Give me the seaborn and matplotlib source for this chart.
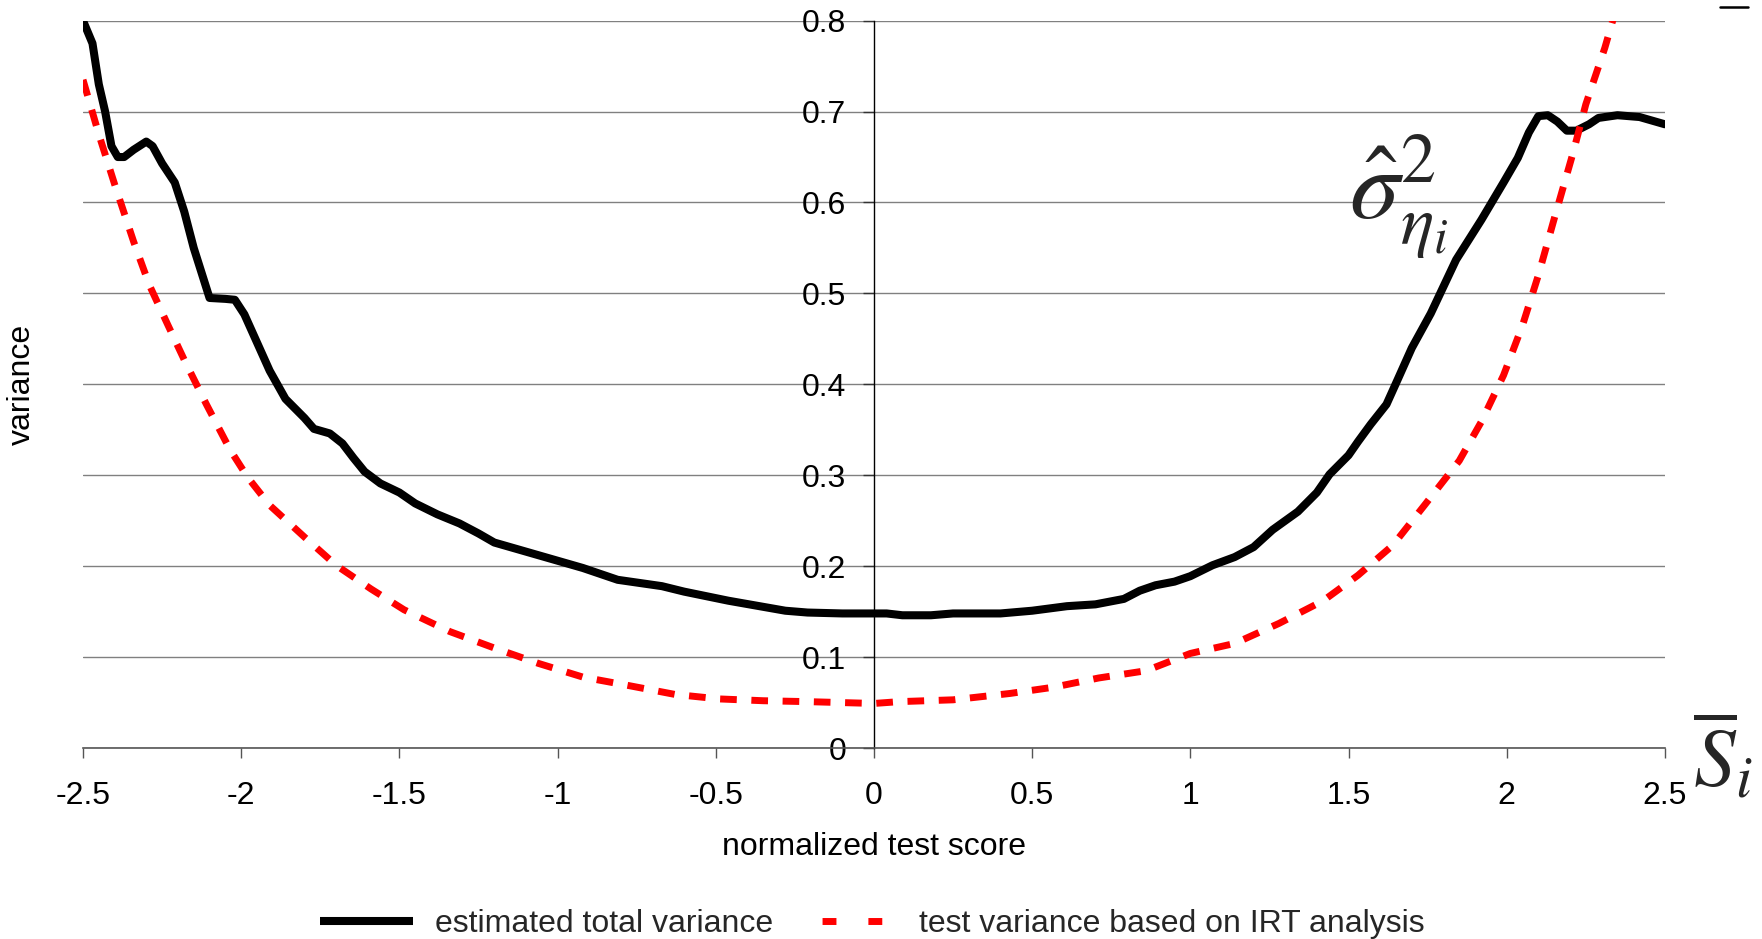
import matplotlib
matplotlib.use("Agg")
import matplotlib.pyplot as plt
from matplotlib.lines import Line2D
import pandas as pd
import seaborn as sns

# estimated total variance (black solid curve)
total_x = [-2.50, -2.47, -2.45, -2.43, -2.41, -2.39, -2.37, -2.34, -2.30, -2.28,
           -2.25, -2.21, -2.18, -2.15, -2.12, -2.10, -2.05, -2.02, -1.99, -1.95,
           -1.91, -1.86, -1.80, -1.77, -1.72, -1.68, -1.645, -1.61, -1.56, -1.50,
           -1.45, -1.38, -1.31, -1.25, -1.20, -1.09, -0.99, -0.92, -0.81, -0.67,
           -0.60, -0.46, -0.28, -0.21, -0.10, 0.04, 0.09, 0.18, 0.25, 0.40,
           0.50, 0.61, 0.70, 0.79, 0.84, 0.89, 0.95, 1.00, 1.07, 1.14,
           1.20, 1.26, 1.34, 1.40, 1.44, 1.50, 1.53, 1.57, 1.62, 1.655,
           1.70, 1.76, 1.84, 1.92, 1.99, 2.035, 2.07, 2.10, 2.13, 2.16,
           2.19, 2.22, 2.26, 2.29, 2.35, 2.42, 2.50]
total_y = [0.800, 0.775, 0.730, 0.700, 0.662, 0.650, 0.650, 0.658, 0.667, 0.662,
           0.643, 0.622, 0.590, 0.550, 0.517, 0.495, 0.494, 0.493, 0.477, 0.446,
           0.415, 0.384, 0.363, 0.351, 0.346, 0.335, 0.319, 0.304, 0.291, 0.281,
           0.269, 0.257, 0.247, 0.236, 0.226, 0.215, 0.205, 0.198, 0.185, 0.178,
           0.172, 0.162, 0.151, 0.149, 0.148, 0.148, 0.146, 0.146, 0.148, 0.148,
           0.151, 0.156, 0.158, 0.164, 0.173, 0.179, 0.183, 0.189, 0.201, 0.210,
           0.221, 0.240, 0.260, 0.281, 0.301, 0.322, 0.337, 0.356, 0.378, 0.405,
           0.440, 0.478, 0.537, 0.581, 0.622, 0.649, 0.677, 0.695, 0.696, 0.689,
           0.679, 0.679, 0.686, 0.693, 0.696, 0.694, 0.686]

# test variance from the IRT analysis (red dashed curve)
irt_x = [-2.50, -2.45, -2.40, -2.34, -2.29, -2.23, -2.18, -2.11, -2.035, -1.98,
         -1.91, -1.80, -1.70, -1.59, -1.485, -1.34, -1.20, -1.06, -0.92, -0.78,
         -0.63, -0.49, -0.35, -0.21, 0.0, 0.08, 0.25, 0.43, 0.57, 0.71,
         0.86, 1.00, 1.14, 1.28, 1.42, 1.53, 1.64, 1.74, 1.85, 1.92,
         1.99, 2.05, 2.10, 2.15, 2.21, 2.25, 2.31, 2.36]
irt_y = [0.735, 0.675, 0.620, 0.557, 0.509, 0.464, 0.427, 0.378, 0.328, 0.298,
         0.267, 0.232, 0.201, 0.175, 0.152, 0.128, 0.110, 0.093, 0.078, 0.069,
         0.059, 0.054, 0.052, 0.051, 0.049, 0.051, 0.053, 0.060, 0.067, 0.077,
         0.085, 0.104, 0.115, 0.137, 0.162, 0.190, 0.223, 0.267, 0.316, 0.359,
         0.410, 0.465, 0.520, 0.582, 0.655, 0.708, 0.770, 0.830]

x_ticks = [-2.5, -2, -1.5, -1, -0.5, 0, 0.5, 1, 1.5, 2, 2.5]
x_tick_labels = ['-2.5', '-2', '-1.5', '-1', '-0.5', '0', '0.5', '1', '1.5', '2', '2.5']
y_ticks = [0, 0.1, 0.2, 0.3, 0.4, 0.5, 0.6, 0.7, 0.8]
y_tick_labels = ['0', '0.1', '0.2', '0.3', '0.4', '0.5', '0.6', '0.7', '0.8']
series_names = ['estimated total variance', 'test variance based on IRT analysis']

sns.set_theme(style='white')
plt.rcParams['font.family'] = ['Liberation Sans', 'DejaVu Sans']
plt.rcParams['mathtext.fontset'] = 'stix'

fig = plt.figure(figsize=(17.62, 9.39), dpi=100)
ax = fig.add_axes([0.0471, 0.2034, 0.8978, 0.7746])

total = pd.DataFrame({'score': total_x, 'variance': total_y})
irt = pd.DataFrame({'score': irt_x, 'variance': irt_y})

sns.lineplot(data=total, x='score', y='variance', ax=ax, estimator=None,
             color='black', lw=5.8, zorder=3)
sns.lineplot(data=irt, x='score', y='variance', ax=ax, estimator=None,
             color='red', lw=5, ls=(0, (2.4, 2.1)), zorder=4)

ax.set_xlim(-2.5, 2.5)
ax.set_ylim(0, 0.8)
ax.set_xticks(x_ticks, x_tick_labels)
ax.set_yticks(y_ticks, y_tick_labels)

# y axis sits at x = 0
ax.spines['left'].set_position(('data', 0))
ax.spines['left'].set_color('black')
ax.spines['left'].set_linewidth(1)
ax.spines['bottom'].set_color('#555555')
ax.spines['bottom'].set_linewidth(1.2)
ax.spines['top'].set_visible(False)
ax.spines['right'].set_visible(False)

ax.tick_params(axis='y', direction='out', left=True, length=8, width=1,
               color='#333333', pad=12, labelsize=23, labelcolor='black')
ax.tick_params(axis='x', direction='out', bottom=True, length=7, width=1,
               color='#555555', pad=17, labelsize=23, labelcolor='black')
ax.grid(axis='y', color='#808080', lw=1)
ax.grid(axis='x', visible=False)
ax.set_axisbelow(True)

ax.set_xlabel('normalized test score', fontsize=23, color='black')
ax.xaxis.set_label_coords(0.5, -0.115)
ax.set_ylabel('variance', fontsize=23, color='black')
ax.yaxis.set_label_coords(-0.029, 0.5)

fig.text(0.794, 0.79, r'$\hat{\sigma}^{2}_{\eta_i}$', fontsize=72,
         ha='center', va='center')
fig.text(0.978, 0.192, r'$\overline{S}_{i}$', fontsize=60,
         ha='center', va='center')
fig.add_artist(Line2D([0.976, 0.992], [0.9925, 0.9925], transform=fig.transFigure,
                      color='black', lw=1.8))

handles = [Line2D([], [], color='black', lw=5.8, solid_capstyle='butt'),
           Line2D([], [], color='red', lw=5, ls=(4, (2, 4.6)))]
fig.legend(handles, series_names, loc='center', bbox_to_anchor=(0.495, 0.016),
           ncol=2, frameon=False, fontsize=23, handlelength=2.9,
           handletextpad=0.7, columnspacing=0.95)

fig.savefig('out.png', dpi=100)
